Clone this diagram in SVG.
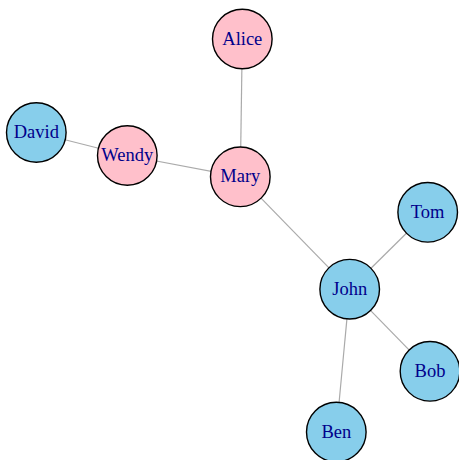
<svg xmlns="http://www.w3.org/2000/svg" width="459" height="460" viewBox="0 0 459 460">
<style>
.edge{stroke:#AAAAAA;stroke-width:1.2;fill:none}
.node circle{stroke:#000;stroke-width:1.4}
.pink{fill:#FFC0CB}
.blue{fill:#87CEEB}
.node text{font-family:"Liberation Serif","Times New Roman",serif;font-size:18.5px;fill:#00008B;text-anchor:middle}
</style>
<rect width="459" height="460" fill="#fff"/>
<g id="edges">
<line class="edge" x1="242.3" y1="39" x2="240.3" y2="176.8"/>
<line class="edge" x1="36.3" y1="132.5" x2="127.3" y2="155.5"/>
<line class="edge" x1="127.3" y1="155.5" x2="240.3" y2="176.8"/>
<line class="edge" x1="240.3" y1="176.8" x2="349.7" y2="289.2"/>
<line class="edge" x1="427.7" y1="212.3" x2="349.7" y2="289.2"/>
<line class="edge" x1="349.7" y1="289.2" x2="430" y2="371.3"/>
<line class="edge" x1="349.7" y1="289.2" x2="336.3" y2="432"/>
</g>
<g id="Alice" class="node"><circle class="pink" cx="242.3" cy="39" r="29.8"/><text x="242.3" y="44.5">Alice</text></g>
<g id="David" class="node"><circle class="blue" cx="36.3" cy="132.5" r="29.8"/><text x="36.3" y="138">David</text></g>
<g id="Wendy" class="node"><circle class="pink" cx="127.3" cy="155.5" r="29.8"/><text x="127.3" y="161">Wendy</text></g>
<g id="Mary" class="node"><circle class="pink" cx="240.3" cy="176.8" r="29.8"/><text x="240.3" y="182.3">Mary</text></g>
<g id="Tom" class="node"><circle class="blue" cx="427.7" cy="212.3" r="29.8"/><text x="427.7" y="217.8">Tom</text></g>
<g id="John" class="node"><circle class="blue" cx="349.7" cy="289.2" r="29.8"/><text x="349.7" y="294.7">John</text></g>
<g id="Bob" class="node"><circle class="blue" cx="430" cy="371.3" r="29.8"/><text x="430" y="376.8">Bob</text></g>
<g id="Ben" class="node"><circle class="blue" cx="336.3" cy="432" r="29.8"/><text x="336.3" y="437.5">Ben</text></g>
</svg>
